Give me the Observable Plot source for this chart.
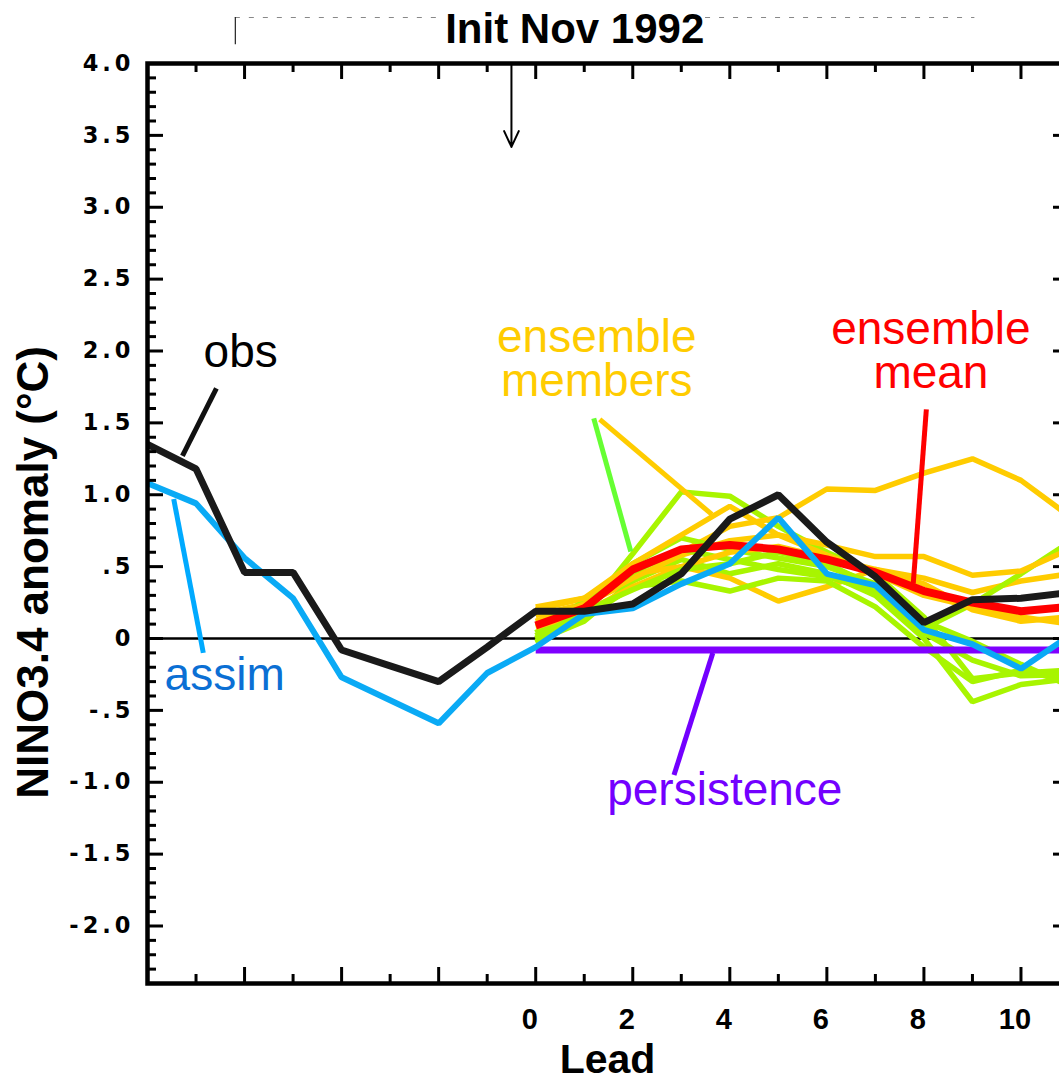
<!DOCTYPE html>
<html><head><meta charset="utf-8">
<script src="https://cdn.jsdelivr.net/npm/d3@7"></script>
<script src="https://cdn.jsdelivr.net/npm/@observablehq/plot@0.6"></script>
<style>
html,body{margin:0;padding:0;background:#fff;overflow:hidden}
</style></head><body><div id="chart"></div>
<script>
// ---- data ----
const histLeads = d3.range(-8, 12);          // -8 .. 11
const fcstLeads = d3.range(0, 12);           // 0 .. 11
const obs   = [1.35, 1.18, 0.46, 0.46, -0.08, -0.19, -0.30, -0.06, 0.19, 0.19, 0.24, 0.45, 0.83, 1.00, 0.67, 0.43, 0.11, 0.27, 0.28, 0.32];
const assim = [1.08, 0.94, 0.56, 0.28, -0.27, -0.43, -0.59, -0.24, -0.06, 0.17, 0.21, 0.38, 0.52, 0.84, 0.45, 0.37, 0.06, -0.04, -0.21, 0.02];
const ensMean = [0.09, 0.21, 0.48, 0.62, 0.65, 0.62, 0.55, 0.46, 0.33, 0.25, 0.19, 0.22];
const persistence = [-0.08, -0.08, -0.08, -0.08, -0.08, -0.08, -0.08, -0.08, -0.08, -0.08, -0.08, -0.08];
const goldMembers = [
  [0.16, 0.24, 0.40, 0.60, 0.78, 0.84, 1.04, 1.03, 1.15, 1.25, 1.10, 0.85],
  [0.20, 0.28, 0.45, 0.50, 0.42, 0.26, 0.36, 0.48, 0.42, 0.32, 0.40, 0.45],
  [0.12, 0.24, 0.42, 0.58, 0.68, 0.72, 0.65, 0.57, 0.57, 0.44, 0.47, 0.62],
  [0.22, 0.28, 0.52, 0.72, 0.92, 0.72, 0.58, 0.45, 0.30, 0.22, 0.15, 0.10],
  [0.08, 0.18, 0.36, 0.50, 0.60, 0.64, 0.56, 0.48, 0.38, 0.20, 0.12, 0.15]
];
const limeMembers = [
  [0.00, 0.17, 0.59, 1.02, 0.99, 0.78, 0.60, 0.45, 0.15, -0.28, -0.24, -0.22],
  [-0.02, 0.12, 0.40, 0.55, 0.45, 0.52, 0.45, 0.30, 0.00, -0.44, -0.32, -0.28],
  [0.04, 0.26, 0.52, 0.70, 0.62, 0.56, 0.50, 0.38, 0.07, 0.24, 0.45, 0.67],
  [-0.03, 0.14, 0.36, 0.40, 0.33, 0.42, 0.40, 0.22, -0.06, -0.30, -0.22, -0.30],
  [0.02, 0.22, 0.46, 0.62, 0.55, 0.48, 0.43, 0.33, 0.04, -0.15, -0.26, -0.25],
  [0.00, 0.19, 0.34, 0.48, 0.52, 0.60, 0.52, 0.36, 0.12, -0.02, -0.18, -0.33]
];
const yTickValues = [4.0, 3.5, 3.0, 2.5, 2.0, 1.5, 1.0, 0.5, 0, -0.5, -1.0, -1.5, -2.0];
const yTickLabels = ["4.0", "3.5", "3.0", "2.5", "2.0", "1.5", "1.0", ".5", "0", "-.5", "-1.0", "-1.5", "-2.0"];
const xTickValues = [0, 2, 4, 6, 8, 10];
const xTickLabels = ["0", "2", "4", "6", "8", "10"];
const titleText = "Init Nov 1992";
const xTitle = "Lead";
const yTitle = "NINO3.4 anomaly (°C)";

// annotations (in data units)
const labels = [
  {text: "obs", x: -6.08, y: 1.886, color: "#000000"},
  {text: "assim", x: -6.41, y: -0.355, color: "#0b6fd4"},
  {text: "ensemble\nmembers", x: 1.258, y: 1.684, color: "#ffcc00"},
  {text: "ensemble\nmean", x: 8.144, y: 1.74, color: "#ff0000"},
  {text: "persistence", x: 3.897, y: -1.155, color: "#7300ff"}
];
const pointers = [
  {x1: -6.58, y1: 1.74, x2: -7.28, y2: 1.27, color: "#111111"},
  {x1: -7.46, y1: 0.97, x2: -6.85, y2: -0.10, color: "#00aaff"},
  {x1: 1.196, y1: 1.531, x2: 1.959, y2: 0.605, color: "#66ff33"},
  {x1: 1.32, y1: 1.524, x2: 3.63, y2: 0.863, color: "#ffcc00"},
  {x1: 8.05, y1: 1.594, x2: 7.78, y2: 0.383, color: "#ff0000"},
  {x1: 3.65, y1: -0.10, x2: 2.85, y2: -0.95, color: "#7300ff"}
];
const initArrow = [{x: -0.5, y1: 4.0, y2: 3.42}];

// ---- tidy tables ----
const histRows = (vals) => vals.map((v, i) => ({lead: histLeads[i], v}));
const fcstRows = (vals) => vals.map((v, i) => ({lead: fcstLeads[i], v}));
const members = [];
const order = [];
for (let i = 0; i < Math.max(goldMembers.length, limeMembers.length); i++) {
  if (limeMembers[i]) order.push({vals: limeMembers[i], color: "#a8f500", id: "L" + i});
  if (goldMembers[i]) order.push({vals: goldMembers[i], color: "#ffcc00", id: "G" + i});
}
order.forEach(m => m.vals.forEach((v, i) => members.push({lead: fcstLeads[i], v, id: m.id, color: m.color})));

// ---- layout ----
const W = 1059, H = 1081, mL = 147, mR = -10, mT = 63, mB = 98;
const plotW = W - mL - mR, plotH = H - mT - mB;
const yMinor = d3.range(-24, 41).map(i => i / 10).filter(v => Math.abs(v * 2 - Math.round(v * 2)) > 1e-6);
const yMajor = d3.range(-4, 9).map(i => i / 2);
const xMinor = d3.range(-7, 12, 2);
const xMajor = d3.range(-6, 11, 2);

const font = "Liberation Sans, Arial, Helvetica, sans-serif";
const lineOpts = {strokeLinejoin: "miter", strokeLinecap: "butt"};

const chart = Plot.plot({
  width: W, height: H,
  marginLeft: mL, marginRight: mR, marginTop: mT, marginBottom: mB,
  x: {domain: [-8, 11], axis: null},
  y: {domain: [-2.4, 4.0], axis: null},
  style: {fontFamily: font, background: "white"},
  marks: [
    // top-left remnants
    Plot.ruleY([{y: 4.32, x1: -6.19, x2: -1.95}, {y: 4.32, x1: 3.5, x2: 9.05}], {y: "y", x1: "x1", x2: "x2", stroke: "#888", strokeWidth: 1.2, strokeDasharray: "5,9"}),
    Plot.ruleX([{x: -6.19, y1: 4.13, y2: 4.32}], {x: "x", y1: "y1", y2: "y2", stroke: "#222", strokeWidth: 1.2}),
    // zero line
    Plot.ruleY([0], {stroke: "#000", strokeWidth: 2.5}),
    // ensemble members
    Plot.line(members, {x: "lead", y: "v", z: "id", stroke: "color", strokeWidth: 5.5, ...lineOpts}),
    // ensemble mean
    Plot.line(fcstRows(ensMean), {x: "lead", y: "v", stroke: "#ff0000", strokeWidth: 8, ...lineOpts}),
    // persistence
    Plot.line(fcstRows(persistence), {x: "lead", y: "v", stroke: "#7f00ff", strokeWidth: 7, ...lineOpts}),
    // assim
    Plot.line(histRows(assim), {x: "lead", y: "v", stroke: "#0aaaf5", strokeWidth: 6, ...lineOpts}),
    // obs
    Plot.line(histRows(obs), {x: "lead", y: "v", stroke: "#1a1a1a", strokeWidth: 7, ...lineOpts}),
    // pointers
    Plot.link(pointers, {x1: "x1", y1: "y1", x2: "x2", y2: "y2", stroke: "color", strokeWidth: 5, strokeLinecap: "butt"}),
    // annotation labels
    Plot.text(labels, {x: "x", y: "y", text: "text", fill: "color", fontSize: 46, lineHeight: 0.96, lineAnchor: "bottom", textAnchor: "middle", fontFamily: font}),
    // init arrow
    Plot.arrow(initArrow, {x1: "x", x2: "x", y1: "y1", y2: "y2", stroke: "#000", strokeWidth: 2, headLength: 13, headAngle: 50}),
    // ticks
    Plot.tickY(yMinor, {y: d => d, insetRight: plotW - 9, strokeWidth: 3}),
    Plot.tickY(yMajor, {y: d => d, insetRight: plotW - 16, strokeWidth: 3}),
    Plot.tickY(yMinor, {y: d => d, insetLeft: plotW - 9, strokeWidth: 3}),
    Plot.tickY(yMajor, {y: d => d, insetLeft: plotW - 16, strokeWidth: 3}),
    Plot.tickX(xMinor, {x: d => d, insetTop: plotH - 9, strokeWidth: 3}),
    Plot.tickX(xMajor, {x: d => d, insetTop: plotH - 16, strokeWidth: 3}),
    Plot.tickX(xMinor, {x: d => d, insetBottom: plotH - 9, strokeWidth: 3}),
    Plot.tickX(xMajor, {x: d => d, insetBottom: plotH - 16, strokeWidth: 3}),
    Plot.frame({stroke: "#000", strokeWidth: 4.5}),
    // y tick labels
    Plot.text(yTickValues, {y: d => d, text: (d, i) => yTickLabels[i], frameAnchor: "left", dx: -13, textAnchor: "end", lineAnchor: "middle",
      fontFamily: "DejaVu Sans, sans-serif", fontWeight: "bold", fontSize: 22.5, ariaLabel: "ylabels"}),
    // x tick labels
    Plot.text(xTickValues, {x: d => d, text: (d, i) => xTickLabels[i], frameAnchor: "bottom", dy: 45, dx: -6, lineAnchor: "bottom",
      fontFamily: font, fontWeight: "bold", fontSize: 29}),
    // axis titles
    Plot.text([{t: xTitle, x: 1.48}], {x: "x", text: "t", frameAnchor: "bottom", dy: 89, lineAnchor: "bottom", fontFamily: font, fontWeight: "bold", fontSize: 41}),
    Plot.text([{t: yTitle, y: 0.46}], {y: "y", text: "t", frameAnchor: "left", dx: -100, rotate: -90, lineAnchor: "bottom", textAnchor: "middle", fontFamily: font, fontWeight: "bold", fontSize: 44}),
    // title
    Plot.text([{t: titleText, x: 0.804}], {x: "x", text: "t", frameAnchor: "top", dy: -21, lineAnchor: "bottom", fontFamily: font, fontWeight: "bold", fontSize: 42})
  ]
});
// wide letter spacing on the y tick labels, as in the original
d3.select(chart).selectAll("g[font-family^='DejaVu'] text").attr("letter-spacing", "4px").style("letter-spacing", "4px");
document.getElementById("chart").appendChild(chart);
</script></body></html>
